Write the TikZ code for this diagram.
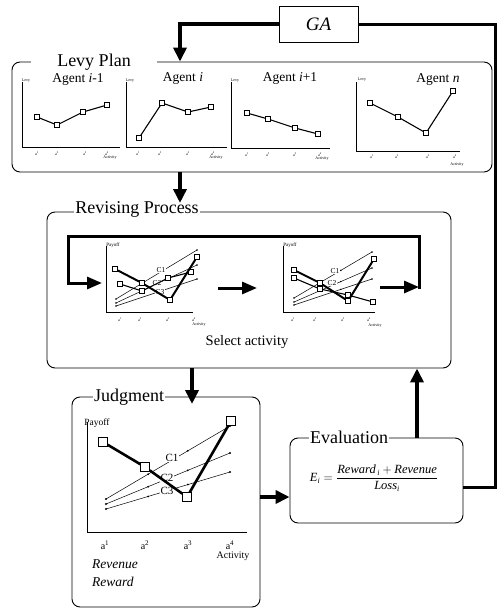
\documentclass[tikz,border=0pt]{standalone}
\usepackage{fontspec}
\setmainfont{Liberation Serif}
\usetikzlibrary{arrows.meta,calc}
\begin{document}
\begin{tikzpicture}[x=1pt,y=-1pt,
  panel/.style={draw, line width=0.9pt, rounded corners=8pt, inner sep=0pt},
  ptitle/.style={fill=white, inner ysep=0pt, inner xsep=1.5pt, font=\fontsize{18}{20}\selectfont},
  bigarrow/.style={line width=3.5pt, -{Triangle[width=13pt,length=14pt]}},
  midarrow/.style={line width=3pt, -{Triangle[width=12pt,length=15pt]}},
  bigline/.style={line width=3pt, line join=miter},
  axis/.style={line width=0.5pt},
  plot/.style={line width=1.1pt},
  plotthick/.style={line width=2pt},
  cline/.style={line width=0.5pt},
  sq/.style={draw, fill=white, line width=0.6pt, minimum size=5pt, inner sep=0pt},
  bsq/.style={draw, fill=white, line width=0.8pt, minimum size=8.5pt, inner sep=0pt},
  tiny/.style={font=\fontsize{4}{4}\selectfont, inner sep=0pt},
  small/.style={font=\fontsize{5}{5}\selectfont, inner sep=0pt},
  agent/.style={font=\fontsize{13.5}{15}\selectfont, inner sep=0pt},
  clab/.style={font=\fontsize{7.5}{8}\selectfont, inner sep=0.3pt, fill=white},
  jlab/.style={font=\fontsize{11}{12}\selectfont, inner sep=0.5pt, fill=white},
]
\useasboundingbox (0,0) rectangle (500,608);

% ---------- boxes ----------
\node[draw, line width=0.8pt, minimum width=79pt, minimum height=36pt, inner sep=0pt,
      font=\fontsize{19}{21}\selectfont\itshape] (ga) at (318.5,24) {GA};
\node[panel, minimum width=480pt, minimum height=110pt] (levy) at (252,117) {};
\node[ptitle, minimum width=126pt] (levyt) at (94,62) {Levy Plan};
\node[panel, minimum width=404pt, minimum height=156pt] (rev) at (249,290) {};
\node[ptitle] (revt) at (137,209) {Revising Process};
\node[panel, minimum width=188pt, minimum height=210pt] (judg) at (166,502) {};
\node[ptitle] (judgt) at (129,397) {Judgment};
\node[panel, minimum width=173pt, minimum height=85pt] (eval) at (376.5,480.5) {};
\node[ptitle] (evalt) at (349,437) {Evaluation};

% ---------- connectors ----------
\coordinate (xa) at (180,0);
\coordinate (ra) at (180,203);
\coordinate (jt) at (192,404);
\coordinate (eu) at (417,0);
\coordinate (ym) at (0,497);
\coordinate (yr) at (0,487);
\coordinate (xr) at (495,0);
\draw[bigarrow] (ga.west) -| (levy.north -| xa);
\draw[bigarrow] (levy.south -| xa) -- (ra);
\draw[bigarrow] (rev.south -| jt) -- (jt);
\draw[bigarrow] (judg.east |- ym) -- (eval.west |- ym);
\draw[bigarrow] (eval.north -| eu) -- (rev.south -| eu);
\draw[bigline] (eval.east |- yr) -| (xr |- ga.east) -- (ga.east);

% ---------- Levy plan charts ----------
% Agent i-1
\draw[axis] (22,82) -- (22,147) -- (120,147);
\node[tiny] (lv1) at (26,81) {Levy};
\node[agent] (ag1) at (78,79) {Agent \textit{i}-1};
\foreach \i/\x/\y in {1/37/117, 2/57/125, 3/83/112, 4/107/105} \node[sq] (A\i) at (\x,\y) {};
\draw[plot] (A1) -- (A2) -- (A3) -- (A4);
\foreach \n/\x/\k in {t11/37/1, t12/57/2, t13/85/3, t14/107/4} \node[tiny] (\n) at (\x,154) {a\textsuperscript{\k}};
\node[tiny] (act1) at (110,158) {Activity};
% Agent i
\draw[axis] (126,82) -- (126,147) -- (227,147);
\node[tiny] (lv2) at (130,81) {Levy};
\node[agent] (ag2) at (183,78) {Agent \textit{i}};
\foreach \i/\x/\y in {1/139/138, 2/162/103, 3/188/112, 4/211/107} \node[sq] (B\i) at (\x,\y) {};
\draw[plot] (B1) -- (B2) -- (B3) -- (B4);
\foreach \n/\x/\k in {t21/138/1, t22/160/2, t23/188/3, t24/213/4} \node[tiny] (\n) at (\x,154) {a\textsuperscript{\k}};
\node[tiny] (act2) at (216,158) {Activity};
% Agent i+1
\draw[axis] (231,82) -- (231,148) -- (330,148);
\node[tiny] (lv3) at (235,81) {Levy};
\node[agent] (ag3) at (290,78) {Agent \textit{i}+1};
\foreach \i/\x/\y in {1/247/113, 2/268/119, 3/295/128, 4/318/134} \node[sq] (C\i) at (\x,\y) {};
\draw[plot] (C1) -- (C2) -- (C3) -- (C4);
\foreach \n/\x/\k in {t31/247/1, t32/268/2, t33/295/3, t34/320/4} \node[tiny] (\n) at (\x,155) {a\textsuperscript{\k}};
\node[tiny] (act3) at (322,159) {Activity};
% Agent n
\draw[axis] (356,82) -- (356,151) -- (460,151);
\node[tiny] (lv4) at (362,80) {Levy};
\node[agent] (ag4) at (438,79) {Agent \textit{n}};
\foreach \i/\x/\y in {1/370/103, 2/398/117, 3/426/133, 4/453/91} \node[sq] (D\i) at (\x,\y) {};
\draw[plot] (D1) -- (D2) -- (D3) -- (D4);
\foreach \n/\x/\k in {t41/372/1, t42/397/2, t43/428/3, t44/455/4} \node[tiny] (\n) at (\x,157) {a\textsuperscript{\k}};
\node[tiny] (act4) at (457,165) {Activity};

% ---------- Revising process ----------
\coordinate (loopR) at (419,289);
\coordinate (loopL) at (102,283);
\coordinate (loopT) at (0,236);
\coordinate (loopX) at (68,0);
\draw[midarrow, line join=miter] (loopR) -- (loopR |- loopT) -| (loopX |- loopL) -- (loopL);
\coordinate (m1) at (218,288);
\coordinate (m2) at (257,288);
\draw[midarrow] (m1) -- (m2);
\coordinate (m3) at (380,287);
\coordinate (m4) at (419,287);
\draw[midarrow] (m3) -- (m4);

% chart 1
\draw[axis] (106,246) -- (106,312) -- (193,312);
\node[small] (py1) at (113,245) {Payoff};
\foreach \a/\b/\c/\d in {116/299/197/250, 116/303/197/265, 116/306/197/279}{
  \draw[cline] (\a,\b) -- (\c,\d);
  \fill (\a,\b) circle (0.9pt) (\c,\d) circle (0.9pt);
  \fill ($(\a,\b)!0.55!(\c,\d)$) circle (0.8pt);
}
\node[clab] (c11) at (161,270) {C1};
\node[clab] (c12) at (157,283) {C2};
\node[clab] (c13) at (160,292) {C3};
\foreach \i/\x/\y in {1/115/269, 2/142/283, 3/170/300, 4/197/257} \node[sq] (P\i) at (\x,\y) {};
\foreach \i/\x/\y in {1/120/284, 2/142/291, 3/168/278, 4/191/272} \node[sq] (Q\i) at (\x,\y) {};
\draw[plot] (Q1) -- (Q2) -- (Q3) -- (Q4);
\draw[plotthick] (P1) -- (P2) -- (P3) -- (P4);
\foreach \n/\x/\k in {u11/120/1, u12/140/2, u13/168/3, u14/194/4} \node[tiny] (\n) at (\x,320) {a\textsuperscript{\k}};
\node[tiny] (act5) at (199,325) {Activity};

% chart 2
\draw[axis] (283,246) -- (283,312) -- (375,312);
\node[small] (py2) at (290,245) {Payoff};
\foreach \a/\b/\c/\d in {294/298/372/252, 294/302/372/268, 294/305/372/279}{
  \draw[cline] (\a,\b) -- (\c,\d);
  \fill (\a,\b) circle (0.9pt) (\c,\d) circle (0.9pt);
  \fill ($(\a,\b)!0.6!(\c,\d)$) circle (0.8pt);
}
\node[clab] (c21) at (335,271) {C1};
\node[clab] (c22) at (332,283) {C2};
\foreach \i/\x/\y in {1/294/270, 2/320/283, 3/348/301, 4/374/259} \node[sq] (R\i) at (\x,\y) {};
\foreach \i/\x/\y in {1/294/278, 2/320/289, 3/348/295, 4/373/302} \node[sq] (S\i) at (\x,\y) {};
\draw[plot] (S1) -- (S2) -- (S3) -- (S4);
\draw[plotthick] (R1) -- (R2) -- (R3) -- (R4);
\foreach \n/\x/\k in {u21/293/1, u22/315/2, u23/343/3, u24/369/4} \node[tiny] (\n) at (\x,320) {a\textsuperscript{\k}};
\node[tiny] (act6) at (375,326) {Activity};

\node[font=\fontsize{14.5}{16}\selectfont, inner sep=0pt] (sel) at (247,342) {Select activity};

% ---------- Judgment ----------
\draw[axis] (87,422) -- (87,532) -- (247,532);
\node[font=\fontsize{9.5}{10}\selectfont, inner sep=0pt] (py3) at (97,423) {Payoff};
\foreach \a/\b/\c/\d in {106/499/230/426, 106/504/230/453, 106/509/230/472}{
  \draw[cline] (\a,\b) -- (\c,\d);
  \fill (\a,\b) circle (1.1pt) (\c,\d) circle (1.1pt);
  \fill ($(\a,\b)!0.34!(\c,\d)$) circle (1pt);
  \fill ($(\a,\b)!0.66!(\c,\d)$) circle (1pt);
}
\node[jlab] (j1) at (172,458) {C1};
\node[jlab] (j2) at (167,478) {C2};
\node[jlab] (j3) at (167,491) {C3};
\foreach \i/\x/\y in {1/103/442, 2/145/467, 3/187/497, 4/231/421} \node[bsq] (J\i) at (\x,\y) {};
\draw[line width=2.6pt] (J1) -- (J2) -- (J3) -- (J4);
\foreach \n/\x/\k in {v1/105/1, v2/145/2, v3/188/3, v4/230/4} \node[font=\fontsize{10}{11}\selectfont, inner sep=0pt] (\n) at (\x,545) {a\textsuperscript{\k}};
\node[font=\fontsize{10}{11}\selectfont, inner sep=0pt] (act7) at (233,556) {Activity};
\node[font=\fontsize{13.5}{15}\selectfont\itshape, inner sep=0pt, anchor=west] (revn) at (92,564) {Revenue};
\node[font=\fontsize{13.5}{15}\selectfont\itshape, inner sep=0pt, anchor=west] (rewd) at (92,582) {Reward};

% ---------- Evaluation formula ----------
\node[font=\fontsize{12.5}{14}\selectfont, inner sep=0pt] (form) at (374,478)
  {$\mbox{\itshape E}_{\mbox{\fontsize{8}{9}\selectfont\itshape i}} = \displaystyle\frac{\mbox{\itshape Reward}_{\,\mbox{\fontsize{8}{9}\selectfont\itshape i}} + \mbox{\itshape Revenue}}{\mbox{\itshape Loss}_{\mbox{\fontsize{8}{9}\selectfont\itshape i}}}$};
\end{tikzpicture}
\end{document}
